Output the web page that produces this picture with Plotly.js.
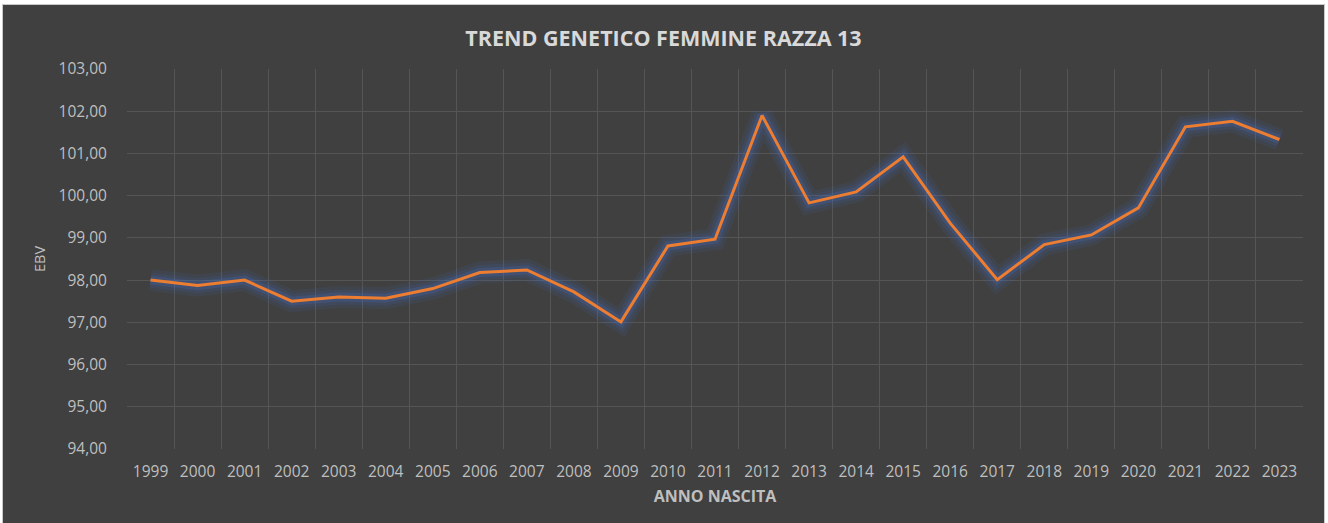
<!DOCTYPE html>
<html>
<head>
<meta charset="utf-8">
<script src="https://cdn.plot.ly/plotly-3.0.1.min.js"></script>
<style>
html,body{margin:0;padding:0;background:#ffffff;width:1328px;height:523px;overflow:hidden;}
#frame{position:absolute;left:2px;top:4px;width:1321px;height:522px;background:#404040;border:1px solid #c8c8c8;border-bottom:none;}
#chart{position:absolute;left:1px;top:1px;width:1319px;height:518px;}
</style>
</head>
<body>
<div id="frame"><div id="chart"></div></div>
<script>
const years = ["1999","2000","2001","2002","2003","2004","2005","2006","2007","2008","2009","2010","2011","2012","2013","2014","2015","2016","2017","2018","2019","2020","2021","2022","2023"];
const ebv = [98.00,97.87,98.00,97.50,97.60,97.57,97.80,98.18,98.24,97.72,97.01,98.81,98.97,101.90,99.83,100.09,100.92,99.35,98.01,98.84,99.07,99.71,101.63,101.76,101.33];
const yTicks = [94,95,96,97,98,99,100,101,102,103];

function glowLayer(w, a) {
  return {x: years, y: ebv, type: 'scatter', mode: 'lines', hoverinfo: 'skip',
    line: {color: 'rgba(70,110,190,' + a + ')', width: w}, showlegend: false};
}
const main = {x: years, y: ebv, type: 'scatter', mode: 'lines',
  line: {color: '#ED7D31', width: 3}, showlegend: false};

const fam = '"Open Sans", "Noto Sans", sans-serif';
const layout = {
  width: 1319, height: 518,
  paper_bgcolor: 'rgba(0,0,0,0)', plot_bgcolor: 'rgba(0,0,0,0)',
  margin: {l: 123, r: 20, t: 63, b: 75},
  separators: ',.',
  font: {family: fam, color: '#bfbfbf', size: 15.5},
  title: {text: '<b>TREND GENETICO FEMMINE RAZZA 13</b>', x: 0.5, xanchor: 'center', y: 0.937, yanchor: 'middle',
    font: {family: fam, size: 21.5, color: '#d9d9d9'}},
  xaxis: {type: 'category', range: [-0.5, 24.5], tickson: 'boundaries',
    showgrid: true, gridcolor: '#555555', gridwidth: 1, showline: false, zeroline: false,
    ticks: '', ticklabelstandoff: 11,
    tickfont: {size: 15.5, color: '#bfbfbf'},
    title: {text: '<b>ANNO NASCITA</b>', standoff: 10, font: {size: 16, color: '#bfbfbf'}}},
  yaxis: {range: [94, 103], tickvals: yTicks, tickformat: '.2f',
    showgrid: true, gridcolor: '#555555', gridwidth: 1, zeroline: false, showline: false,
    ticks: 'outside', ticklen: 16, tickcolor: 'rgba(0,0,0,0)',
    tickfont: {size: 15.5, color: '#bfbfbf'}},
  annotations: [{text: 'EBV', xref: 'paper', yref: 'paper', x: 0, y: 0.5, xanchor: 'center', yanchor: 'middle',
    xshift: -88, textangle: -90, showarrow: false, font: {family: fam, size: 14.5, color: '#bfbfbf'}}]
};

Plotly.newPlot('chart', [glowLayer(22, 0.10), glowLayer(15, 0.15), glowLayer(9, 0.24), main], layout, {displayModeBar: false, staticPlot: true});
</script>
</body>
</html>
